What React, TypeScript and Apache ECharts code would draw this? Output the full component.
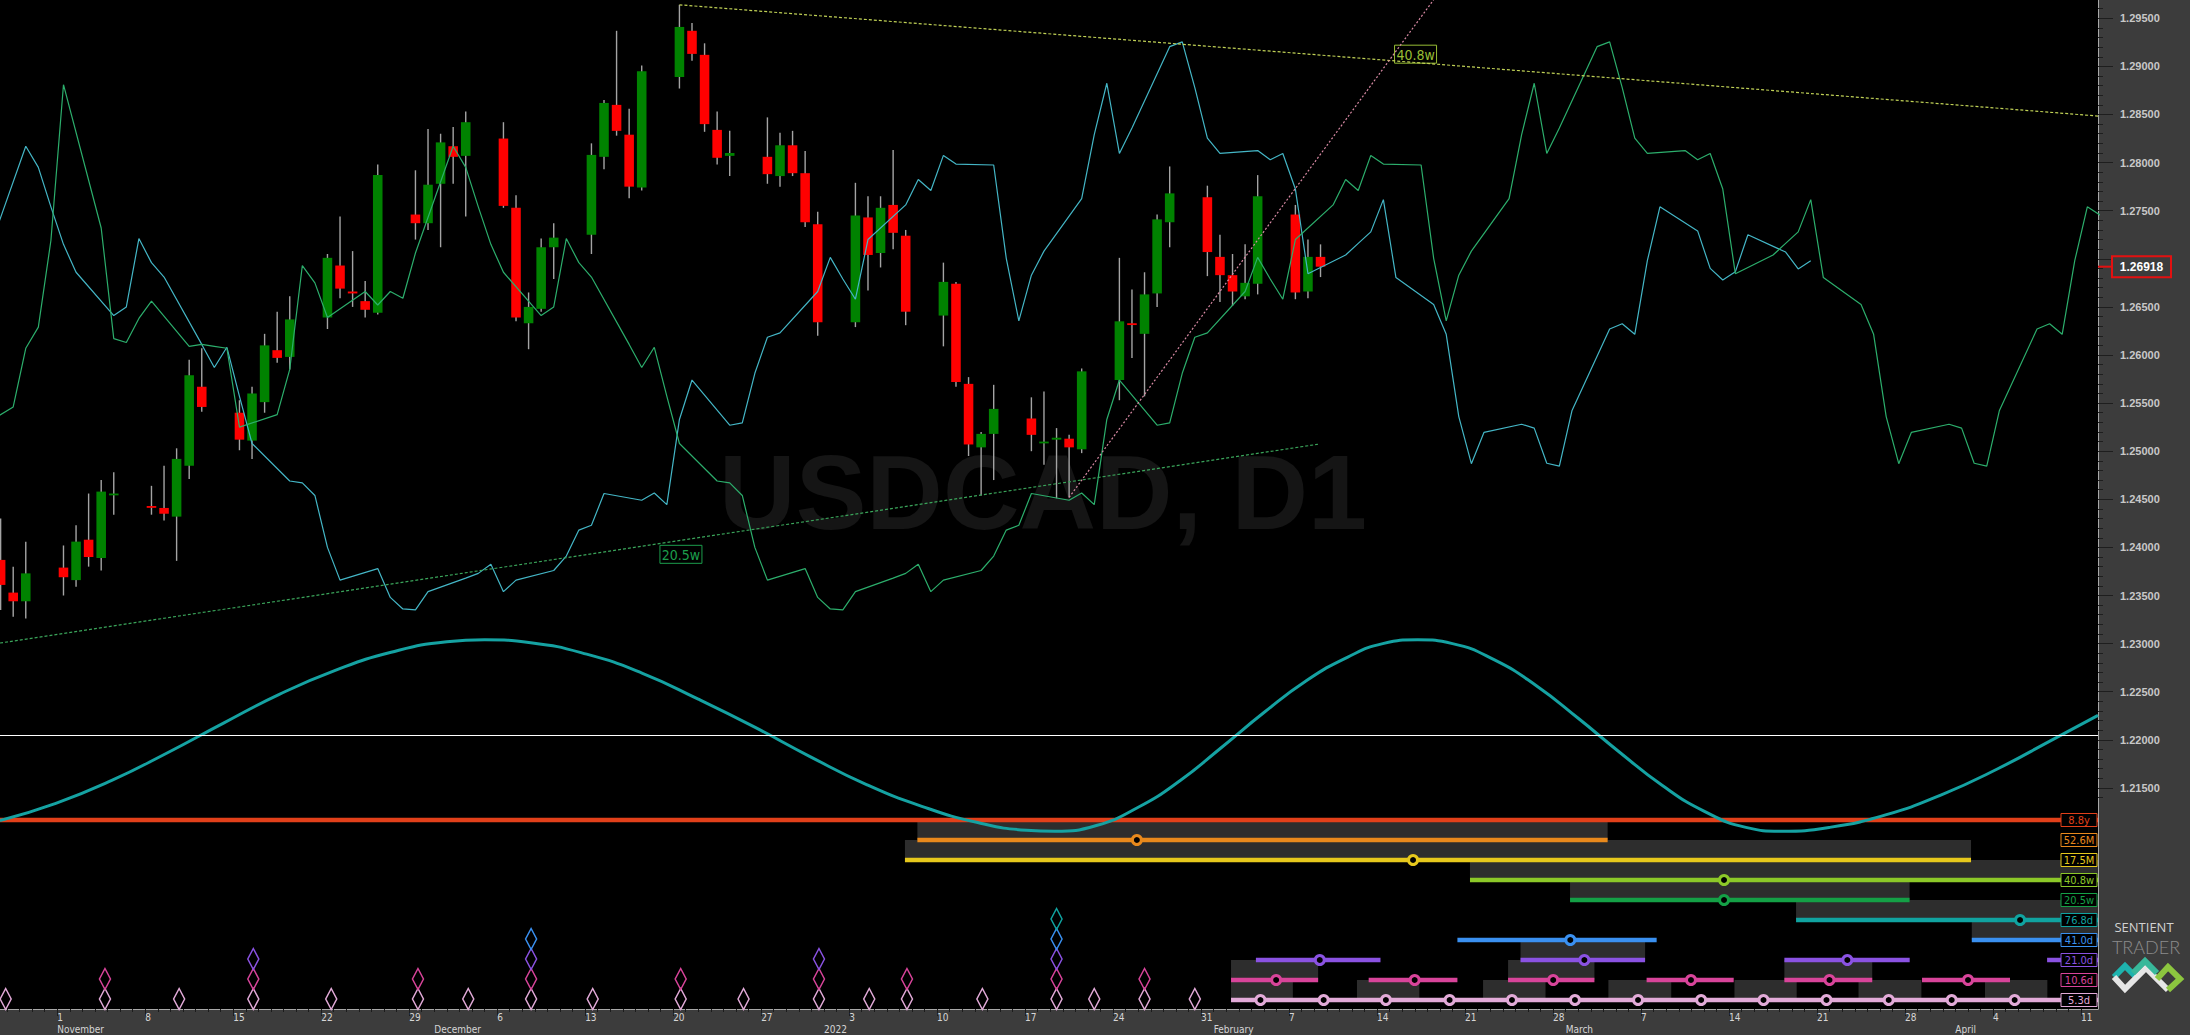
import React, { useEffect, useRef } from 'react';
import * as echarts from 'echarts';

// ---- Daily USDCAD candles (day 0 = Monday 1 Nov 2021, calendar days) ----
const candleDays = [-5, -4, -3, 0, 1, 2, 3, 4, 7, 8, 9, 10, 11, 14, 15, 16, 17, 18, 21, 22, 23, 24, 25, 28, 29, 30, 31, 32, 35, 36, 37, 38, 39, 42, 43, 44, 45, 46, 49, 50, 51, 52, 53, 56, 57, 58, 59, 60, 63, 64, 65, 66, 67, 70, 71, 72, 73, 74, 77, 78, 79, 80, 81, 84, 85, 86, 87, 88, 91, 92, 93, 94, 95, 98, 99, 100];
const opens = [1.2387, 1.2353, 1.2344, 1.2379, 1.2366, 1.2408, 1.2389, 1.2455, 1.2443, 1.2441, 1.2432, 1.2485, 1.2567, 1.2540, 1.2511, 1.2551, 1.2605, 1.2598, 1.2639, 1.2693, 1.2666, 1.2656, 1.2644, 1.2746, 1.2737, 1.2778, 1.2817, 1.2807, 1.2825, 1.2753, 1.2633, 1.2648, 1.2712, 1.2725, 1.2806, 1.2860, 1.2829, 1.2774, 1.2889, 1.2937, 1.2912, 1.2834, 1.2807, 1.2806, 1.2786, 1.2818, 1.2789, 1.2736, 1.2634, 1.2743, 1.2706, 1.2756, 1.2724, 1.2641, 1.2674, 1.2570, 1.2504, 1.2518, 1.2534, 1.2509, 1.2512, 1.2513, 1.2502, 1.2574, 1.2633, 1.2622, 1.2664, 1.2738, 1.2764, 1.2702, 1.2683, 1.2661, 1.2674, 1.2746, 1.2666, 1.2702];
const highs = [1.2430, 1.2380, 1.2406, 1.2402, 1.2423, 1.2456, 1.2470, 1.2478, 1.2464, 1.2485, 1.2503, 1.2595, 1.2607, 1.2553, 1.2567, 1.2622, 1.2645, 1.2661, 1.2705, 1.2744, 1.2708, 1.2677, 1.2798, 1.2792, 1.2835, 1.2830, 1.2837, 1.2853, 1.2842, 1.2766, 1.2665, 1.2721, 1.2737, 1.2820, 1.2865, 1.2937, 1.2856, 1.2901, 1.2964, 1.2945, 1.2924, 1.2853, 1.2833, 1.2847, 1.2831, 1.2833, 1.2812, 1.2749, 1.2779, 1.2765, 1.2765, 1.2813, 1.2730, 1.2696, 1.2676, 1.2577, 1.2520, 1.2569, 1.2556, 1.2562, 1.2524, 1.2517, 1.2586, 1.2701, 1.2668, 1.2686, 1.2746, 1.2796, 1.2776, 1.2725, 1.2705, 1.2715, 1.2787, 1.2756, 1.2720, 1.2715];
const lows = [1.2335, 1.2328, 1.2326, 1.2350, 1.2359, 1.2380, 1.2376, 1.2434, 1.2434, 1.2428, 1.2386, 1.2471, 1.2541, 1.2501, 1.2492, 1.2540, 1.2592, 1.2585, 1.2627, 1.2659, 1.2650, 1.2639, 1.2642, 1.2720, 1.2730, 1.2712, 1.2778, 1.2744, 1.2753, 1.2635, 1.2606, 1.2645, 1.2679, 1.2705, 1.2793, 1.2828, 1.2763, 1.2771, 1.2877, 1.2906, 1.2832, 1.2798, 1.2786, 1.2778, 1.2775, 1.2786, 1.2733, 1.2620, 1.2629, 1.2667, 1.2691, 1.2710, 1.2631, 1.2609, 1.2567, 1.2495, 1.2454, 1.2470, 1.2500, 1.2486, 1.2451, 1.2452, 1.2498, 1.2553, 1.2597, 1.2557, 1.2650, 1.2712, 1.2682, 1.2655, 1.2651, 1.2658, 1.2663, 1.2658, 1.2659, 1.2681];
const closes = [1.2361, 1.2344, 1.2373, 1.2369, 1.2406, 1.2390, 1.2458, 1.2456, 1.2442, 1.2435, 1.2492, 1.2579, 1.2546, 1.2512, 1.2560, 1.2610, 1.2597, 1.2637, 1.2701, 1.2669, 1.2664, 1.2647, 1.2787, 1.2737, 1.2777, 1.2821, 1.2806, 1.2842, 1.2755, 1.2639, 1.2650, 1.2712, 1.2722, 1.2808, 1.2862, 1.2833, 1.2775, 1.2895, 1.2941, 1.2913, 1.2840, 1.2805, 1.2810, 1.2788, 1.2818, 1.2789, 1.2738, 1.2634, 1.2745, 1.2704, 1.2753, 1.2727, 1.2645, 1.2676, 1.2572, 1.2507, 1.2518, 1.2544, 1.2517, 1.2510, 1.2514, 1.2504, 1.2583, 1.2635, 1.2632, 1.2663, 1.2741, 1.2768, 1.2707, 1.2683, 1.2666, 1.2675, 1.2765, 1.2665, 1.2702, 1.26918];

// ---- FLD lines (median price displaced forward), [day, price] ----
const fld76 = [[-6, 1.2706], [-3, 1.2817], [-2, 1.2795], [-1, 1.2754], [0, 1.2715], [1, 1.2686], [4, 1.2641], [5, 1.2650], [6, 1.2721], [7, 1.2696], [8, 1.2681], [11, 1.2611], [12, 1.2587], [13, 1.2608], [14, 1.2557], [15, 1.2508], [18, 1.2469], [19, 1.2467], [20, 1.2454], [21, 1.2400], [22, 1.2366], [25, 1.2378], [26, 1.2348], [27, 1.2336], [28, 1.2335], [29, 1.2354], [32, 1.2368], [33, 1.2373], [34, 1.23825], [35, 1.2354], [36, 1.2366], [39, 1.2376], [40, 1.2391], [41, 1.2418], [42, 1.2423], [43, 1.2456], [46, 1.2449], [47, 1.24565], [48, 1.24445], [49, 1.2533], [50, 1.2574], [53, 1.2527], [54, 1.25295], [55, 1.2581], [56, 1.26185], [57, 1.2623], [60, 1.2666], [61, 1.27015], [62, 1.2679], [63, 1.2658], [64, 1.272], [67, 1.2756], [68, 1.27825], [69, 1.2771], [70, 1.28075], [71, 1.27985], [74, 1.27975], [75, 1.27005], [76, 1.26355], [77, 1.2683], [78, 1.2708], [81, 1.27625], [82, 1.2829], [83, 1.28825], [84, 1.28095], [85, 1.2836], [88, 1.29205], [89, 1.29255], [90, 1.2878], [91, 1.28255], [92, 1.28095], [95, 1.28125], [96, 1.2803], [97, 1.28095], [98, 1.27725], [99, 1.26845], [102, 1.2704], [103, 1.2716], [104, 1.2728], [105, 1.27615], [106, 1.26805], [109, 1.26525], [110, 1.26215], [111, 1.2536], [112, 1.2487], [113, 1.25195], [116, 1.2528], [117, 1.2524], [118, 1.24875], [119, 1.24845], [120, 1.2542], [123, 1.2627], [124, 1.26325], [125, 1.26215], [126, 1.2698], [127, 1.2754], [130, 1.2729], [131, 1.269], [132, 1.2678], [133, 1.26865], [134, 1.2725], [137, 1.2707], [138, 1.26895], [139, 1.2698]];
const fld205 = [[-7, 1.2522], [-4, 1.2546], [-3, 1.2607], [-2, 1.2629], [-1, 1.2719], [0, 1.2881], [3, 1.2732], [4, 1.2617], [5, 1.2613], [6, 1.2638], [7, 1.2656], [10, 1.2609], [11, 1.2611], [12, 1.2609], [13, 1.2607], [14, 1.2525], [17, 1.2538], [18, 1.2585], [19, 1.2693], [20, 1.2675], [21, 1.2639], [24, 1.2666], [25, 1.2652], [26, 1.2666], [27, 1.2659], [28, 1.2706], [31, 1.2817], [32, 1.2795], [33, 1.2754], [34, 1.2715], [35, 1.2686], [38, 1.2641], [39, 1.2650], [40, 1.2721], [41, 1.2696], [42, 1.2681], [45, 1.2611], [46, 1.2587], [47, 1.2608], [48, 1.2557], [49, 1.2508], [52, 1.2469], [53, 1.2467], [54, 1.2454], [55, 1.2400], [56, 1.2366], [59, 1.2378], [60, 1.2348], [61, 1.2336], [62, 1.2335], [63, 1.2354], [66, 1.2368], [67, 1.2373], [68, 1.23825], [69, 1.2354], [70, 1.2366], [73, 1.2376], [74, 1.2391], [75, 1.2418], [76, 1.2423], [77, 1.2456], [80, 1.2449], [81, 1.24565], [82, 1.24445], [83, 1.2533], [84, 1.2574], [87, 1.2527], [88, 1.25295], [89, 1.2581], [90, 1.26185], [91, 1.2623], [94, 1.2666], [95, 1.27015], [96, 1.2679], [97, 1.2658], [98, 1.272], [101, 1.2756], [102, 1.27825], [103, 1.2771], [104, 1.28075], [105, 1.27985], [108, 1.27975], [109, 1.27005], [110, 1.26355], [111, 1.2683], [112, 1.2708], [115, 1.27625], [116, 1.2829], [117, 1.28825], [118, 1.28095], [119, 1.2836], [122, 1.29205], [123, 1.29255], [124, 1.2878], [125, 1.28255], [126, 1.28095], [129, 1.28125], [130, 1.2803], [131, 1.28095], [132, 1.27725], [133, 1.26845], [136, 1.2704], [137, 1.2716], [138, 1.2728], [139, 1.27615], [140, 1.26805], [143, 1.26525], [144, 1.26215], [145, 1.2536], [146, 1.2487], [147, 1.25195], [150, 1.2528], [151, 1.2524], [152, 1.24875], [153, 1.24845], [154, 1.2542], [157, 1.2627], [158, 1.26325], [159, 1.26215], [160, 1.2698], [161, 1.2754], [164, 1.2729]];

// ---- Trend lines [day, price] ----
const upperTrend = [[49, 1.2964], [161.85, 1.28484]];
const lowerTrend = [[-5.05, 1.23006], [99.8, 1.25072]];
const risingTrend = [[80, 1.2452], [109.6, 1.298]];
const trendTags = ['40.8w', '20.5w'];
const trendTagPoints = [[107.56, 1.29127], [49.12, 1.23928]];

// ---- Composite cycle wave (unit amplitude), [day, value] ----
const waveTrace = [[-5.05, -0.89], [-0.61, -0.71], [3.84, -0.47], [8.28, -0.18], [12.73, 0.13], [17.17, 0.43], [21.62, 0.68], [26.06, 0.87], [30.5, 0.98], [33.5, 1.0], [37.17, 0.97], [41.62, 0.85], [46.06, 0.65], [50.5, 0.38], [54.95, 0.09], [59.39, -0.22], [63.84, -0.51], [68.28, -0.74], [72.73, -0.91], [76.61, -0.99], [78.84, -1.0], [82.17, -0.94], [85.5, -0.75], [88.84, -0.47], [92.17, -0.12], [95.5, 0.24], [98.84, 0.57], [102.17, 0.82], [104.95, 0.96], [107.73, 1.0], [110.5, 0.96], [113.84, 0.79], [117.17, 0.52], [120.5, 0.18], [123.84, -0.18], [127.17, -0.52], [130.5, -0.79], [133.84, -0.96], [136.61, -1.0], [140.5, -0.96], [144.95, -0.83], [149.39, -0.62], [153.84, -0.35], [158.28, -0.04], [161.85, 0.21]];

// ---- Cycle panel: rows, spans [start, end, row], trough markers, windows ----
const cycleLabels = ['8.8y', '52.6M', '17.5M', '40.8w', '20.5w', '76.8d', '41.0d', '21.0d', '10.6d', '5.3d'];
const cycleSpans = [[-5.05, 161.85, 0], [67.93, 122.84, 1], [66.94, 151.75, 2], [111.89, 161.85, 3], [119.85, 146.86, 4], [137.83, 161.85, 5], [110.89, 126.74, 6], [151.81, 161.85, 6], [94.86, 104.77, 7], [115.91, 125.82, 7], [136.9, 146.87, 7], [157.8, 161.85, 7], [92.88, 99.81, 8], [103.83, 110.89, 8], [114.92, 121.79, 8], [125.94, 132.87, 8], [136.9, 143.89, 8], [147.85, 154.85, 8], [92.88, 161.85, 9]];
const cycleTroughs = [[85.39, 1], [107.36, 2], [132.1, 3], [132.1, 4], [155.65, 5], [119.87, 6], [99.94, 7], [120.99, 7], [141.91, 7], [96.47, 8], [107.49, 8], [118.51, 8], [129.47, 8], [140.49, 8], [151.51, 8], [95.22, 9], [100.25, 9], [105.2, 9], [110.27, 9], [115.23, 9], [120.24, 9], [125.26, 9], [130.28, 9], [135.24, 9], [140.25, 9], [145.2, 9], [150.21, 9], [155.22, 9]];
const cycleWindows = [[67.93, 122.84, 1], [66.94, 151.75, 2], [111.89, 161.85, 3], [119.85, 146.86, 4], [137.83, 161.85, 5], [151.81, 161.85, 6], [115.91, 125.82, 7], [92.88, 99.81, 8], [114.92, 121.79, 8], [136.9, 143.89, 8], [92.88, 97.8, 9], [102.9, 107.86, 9], [112.93, 117.9, 9], [122.9, 127.9, 9], [132.93, 137.88, 9], [142.8, 147.8, 9], [152.86, 157.82, 9]];
// past troughs: [day, number of cycles bottoming together]
const pastTroughs = [[-4.6, 1], [3.3, 2], [9.2, 1], [15.1, 3], [21.3, 1], [28.2, 2], [32.2, 1], [37.2, 4], [42.1, 1], [49.1, 2], [54.1, 1], [60.1, 3], [64.1, 1], [67.1, 2], [73.1, 1], [79, 5], [82, 1], [86, 2], [90, 1]];

// ---- Axis ticks and labels ----
const priceTicks = [1.215, 1.22, 1.225, 1.23, 1.235, 1.24, 1.245, 1.25, 1.255, 1.26, 1.265, 1.27, 1.275, 1.28, 1.285, 1.29, 1.295];
const priceLabels = [1.215, 1.22, 1.225, 1.23, 1.235, 1.24, 1.245, 1.25, 1.255, 1.26, 1.265, 1.275, 1.28, 1.285, 1.29, 1.295];
const mondays = [0, 7, 14, 21, 28, 35, 42, 49, 56, 63, 70, 77, 84, 91, 98, 105, 112, 119, 126, 133, 140, 147, 154, 161];
const monthStarts = [0, 30, 61, 92, 120, 151];
const monthNames = ['November', 'December', '2022', 'February', 'March', 'April'];

// ---- styling ----
const CYCLE_COLORS = ['#e2401a', '#e8891c', '#e6c81c', '#8cc828', '#14a046', '#10a3a0', '#3a90f0', '#8a52e2', '#d8449a', '#e2aad8'];
const X_MIN = -5.05, X_MAX = 161.85;
const P_MIN = 1.192017, P_MAX = 1.296902;
const W_MIN = -2.8579, W_MAX = 7.6855;
const R_MIN = -41, R_MAX = 9.45;
const NARROW = '"Liberation Sans Narrow", "Arial Narrow", "DejaVu Sans Condensed", sans-serif';
const SANS = '"Liberation Sans", Arial, sans-serif';
const DAY0 = Date.UTC(2021, 10, 1);

function dayOfMonth(v: number) {
  const d = new Date(DAY0 + Math.round(v + 0.5) * 86400000);
  return String(d.getUTCDate());
}

function centered(text: string, x: number, y: number, fill: string, font: string) {
  return { type: 'text', x, y, style: { text, fill, font, align: 'center', verticalAlign: 'middle', textAlign: 'center', textVerticalAlign: 'middle' } };
}

function buildOption() {
  const lastClose = closes[closes.length - 1];
  const minorPrice: number[] = [];
  for (let k = 1214; k <= 1296; k++) if (k % 5 !== 0) minorPrice.push(k / 1000);
  const dayTicks: number[] = [];
  for (let d = -4; d <= 161; d++) dayTicks.push(d - 0.5);
  const mondayTicks = mondays.map((d) => d - 0.5);
  const monthTicks = monthStarts.map((d) => d - 0.5);

  const candleData = candleDays.map((d, i) => [d, opens[i], closes[i], lows[i], highs[i]]);
  const hiddenY = { show: false, axisLine: { onZero: false } };

  return {
    animation: false,
    backgroundColor: '#3c3c3c',
    grid: { left: 0, right: 92, top: 0, bottom: 26, show: true, backgroundColor: '#000000', borderWidth: 0 },
    xAxis: [
      {
        type: 'value', min: X_MIN, max: X_MAX, position: 'bottom',
        axisLine: { show: true, onZero: false, lineStyle: { color: '#a8a8a8', width: 1 } },
        axisTick: { show: true, customValues: mondayTicks, length: 7, lineStyle: { color: '#1c1c1c', width: 1 } },
        axisLabel: { show: true, customValues: mondayTicks, formatter: dayOfMonth, align: 'left', margin: 3, color: '#d6d6d6', fontSize: 10, fontFamily: NARROW },
        splitLine: { show: false },
      },
      {
        type: 'value', min: X_MIN, max: X_MAX, position: 'bottom',
        axisLine: { show: false, onZero: false },
        axisTick: { show: true, customValues: dayTicks, length: 3, lineStyle: { color: '#1c1c1c', width: 1 } },
        axisLabel: { show: false },
        splitLine: { show: false },
      },
      {
        type: 'value', min: X_MIN, max: X_MAX, position: 'bottom',
        axisLine: { show: false, onZero: false },
        axisTick: { show: false },
        axisLabel: {
          show: true, customValues: monthTicks, align: 'left', margin: 15, color: '#d6d6d6', fontSize: 10, fontFamily: NARROW,
          formatter: (v: number) => monthNames[monthTicks.indexOf(v)] ?? '',
        },
        splitLine: { show: false },
      },
    ],
    yAxis: [
      {
        type: 'value', min: P_MIN, max: P_MAX, position: 'right',
        axisLine: { show: true, onZero: false, lineStyle: { color: '#a8a8a8', width: 1 } },
        axisTick: { show: true, customValues: priceTicks, length: 15, lineStyle: { color: '#1e1e1e', width: 1 } },
        axisLabel: { show: true, customValues: priceLabels, formatter: (v: number) => v.toFixed(5), margin: 22, color: '#c8c8c8', fontSize: 11, fontWeight: 'bold', fontFamily: SANS },
        splitLine: { show: false },
      },
      { type: 'value', min: W_MIN, max: W_MAX, ...hiddenY },
      { type: 'value', min: R_MIN, max: R_MAX, inverse: true, ...hiddenY },
      {
        type: 'value', min: P_MIN, max: P_MAX, position: 'right',
        axisLine: { show: false, onZero: false },
        axisTick: { show: true, customValues: minorPrice, length: 5, lineStyle: { color: '#1e1e1e', width: 1 } },
        axisLabel: { show: false },
        splitLine: { show: false },
      },
    ],
    graphic: [
      { ...centered('USDCAD, D1', 1043, 492, '#151515', 'bold 106px "Liberation Sans", Arial, sans-serif'), z: 1, silent: true },
      { ...centered('SENTIENT', 2144, 927, '#d2d2d2', '500 13px "Open Sans", "Liberation Sans", sans-serif'), z: 10 },
      { ...centered('TRADER', 2146, 947, '#8c8c8c', '300 18px Lato, "Open Sans", sans-serif'), z: 10 },
      { type: 'polyline', z: 10, shape: { points: [[2114, 977], [2125, 966], [2137, 978]] }, style: { stroke: '#1eb3ae', lineWidth: 6, fill: 'none' } },
      { type: 'polyline', z: 10, shape: { points: [[2114, 977], [2125, 989], [2146, 968], [2157, 979], [2168, 990]] }, style: { stroke: '#e6e6e6', lineWidth: 6, fill: 'none' } },
      { type: 'polyline', z: 10, shape: { points: [[2133, 973], [2145, 961], [2157, 973]] }, style: { stroke: '#38b89a', lineWidth: 6, fill: 'none' } },
      { type: 'polyline', z: 10, shape: { points: [[2157, 979], [2168, 967], [2180, 979], [2168, 990]] }, style: { stroke: '#8cc63f', lineWidth: 6, fill: 'none' } },
    ],
    series: [
      // grey projection windows in the cycle panel
      {
        type: 'custom', xAxisIndex: 0, yAxisIndex: 2, data: cycleWindows, encode: { x: [0, 1], y: 2 },
        renderItem: (_p: any, api: any) => {
          const a = api.coord([api.value(0), api.value(2) - 1]);
          const b = api.coord([api.value(1), api.value(2)]);
          return { type: 'rect', shape: { x: a[0], y: a[1], width: b[0] - a[0], height: b[1] - a[1] }, style: { fill: '#2d2d2d' } };
        },
      },
      // composite wave with its zero line
      {
        type: 'line', xAxisIndex: 0, yAxisIndex: 1, data: waveTrace, smooth: true, showSymbol: false, silent: true,
        lineStyle: { color: '#15a2a2', width: 3 },
        markLine: { silent: true, symbol: 'none', label: { show: false }, lineStyle: { color: '#ffffff', width: 1, type: 'solid' }, data: [{ yAxis: 0 }] },
      },
      // cycle phase spans
      {
        type: 'custom', xAxisIndex: 0, yAxisIndex: 2, data: cycleSpans, encode: { x: [0, 1], y: 2 },
        renderItem: (_p: any, api: any) => {
          const r = api.value(2);
          const a = api.coord([api.value(0), r]);
          const b = api.coord([api.value(1), r]);
          return { type: 'line', shape: { x1: a[0], y1: a[1], x2: b[0], y2: b[1] }, style: { stroke: CYCLE_COLORS[r], lineWidth: 4.5 } };
        },
      },
      // projected troughs
      {
        type: 'custom', xAxisIndex: 0, yAxisIndex: 2, data: cycleTroughs, encode: { x: 0, y: 1 },
        renderItem: (_p: any, api: any) => {
          const r = api.value(1);
          const c = api.coord([api.value(0), r]);
          return { type: 'circle', shape: { cx: c[0], cy: c[1], r: 4.5 }, style: { fill: '#000000', stroke: CYCLE_COLORS[r], lineWidth: 3 } };
        },
      },
      // past trough diamonds, stacked by cycle
      {
        type: 'custom', xAxisIndex: 0, yAxisIndex: 2, data: pastTroughs, encode: { x: 0, y: 1 },
        renderItem: (_p: any, api: any) => {
          const n = api.value(1);
          const children: any[] = [];
          for (let k = 0; k < n; k++) {
            const row = 9 - k;
            const c = api.coord([api.value(0), row]);
            const cy = c[1] - 1;
            children.push({
              type: 'polygon',
              shape: { points: [[c[0], cy - 10.5], [c[0] + 5.5, cy], [c[0], cy + 10.5], [c[0] - 5.5, cy]] },
              style: { fill: 'none', stroke: CYCLE_COLORS[row], lineWidth: 1.5 },
            });
          }
          return { type: 'group', children };
        },
      },
      // candles
      {
        type: 'custom', xAxisIndex: 0, yAxisIndex: 0, data: candleData, encode: { x: 0, y: [1, 2, 3, 4] },
        renderItem: (_p: any, api: any) => {
          const d = api.value(0), o = api.value(1), c = api.value(2), l = api.value(3), h = api.value(4);
          const hi = api.coord([d, h]);
          const lo = api.coord([d, l]);
          const po = api.coord([d, o]);
          const pc = api.coord([d, c]);
          const w = api.size([1, 0])[0] * 0.76;
          const top = Math.min(po[1], pc[1]);
          const ht = Math.max(Math.abs(po[1] - pc[1]), 1.8);
          return {
            type: 'group',
            children: [
              { type: 'line', shape: { x1: hi[0], y1: hi[1], x2: lo[0], y2: lo[1] }, style: { stroke: '#a4a4a4', lineWidth: 1.4 } },
              { type: 'rect', shape: { x: po[0] - w / 2, y: top, width: w, height: ht }, style: { fill: c >= o ? '#008200' : '#ff0000' } },
            ],
          };
        },
      },
      // FLD lines
      { type: 'line', xAxisIndex: 0, yAxisIndex: 0, data: fld76, showSymbol: false, silent: true, lineStyle: { color: '#44b6c6', width: 1.2 } },
      { type: 'line', xAxisIndex: 0, yAxisIndex: 0, data: fld205, showSymbol: false, silent: true, lineStyle: { color: '#2cae6c', width: 1.2 } },
      // trend lines
      { type: 'line', xAxisIndex: 0, yAxisIndex: 0, data: upperTrend, showSymbol: false, silent: true, lineStyle: { color: '#bfd055', width: 1.2, type: [3, 2] } },
      { type: 'line', xAxisIndex: 0, yAxisIndex: 0, data: lowerTrend, showSymbol: false, silent: true, lineStyle: { color: '#3aa45a', width: 1.2, type: [3, 2] } },
      { type: 'line', xAxisIndex: 0, yAxisIndex: 0, data: risingTrend, showSymbol: false, silent: true, lineStyle: { color: '#d88aa4', width: 1.2, type: [2, 2] } },
      // trend line tags
      {
        type: 'custom', xAxisIndex: 0, yAxisIndex: 0, data: trendTagPoints.map((p, i) => [p[0], p[1], i]), encode: { x: 0, y: 1 },
        renderItem: (_p: any, api: any) => {
          const i = api.value(2);
          const c = api.coord([api.value(0), api.value(1)]);
          const col = i === 0 ? '#98bd34' : '#1c9e4c';
          return {
            type: 'group',
            children: [
              { type: 'rect', shape: { x: c[0] - 21, y: c[1] - 9, width: 42, height: 18 }, style: { fill: '#000000', stroke: col, lineWidth: 1 } },
              centered(trendTags[i], c[0], c[1] + 0.5, col, `14px ${NARROW}`),
            ],
          };
        },
      },
      // cycle row tags at the right edge
      {
        type: 'custom', xAxisIndex: 0, yAxisIndex: 2, data: cycleLabels.map((_, r) => [X_MAX, r]), encode: { x: 0, y: 1 },
        renderItem: (_p: any, api: any) => {
          const r = api.value(1);
          const c = api.coord([api.value(0), r]);
          return {
            type: 'group',
            children: [
              { type: 'rect', shape: { x: c[0] - 37, y: c[1] - 6.5, width: 36, height: 13 }, style: { fill: '#000000', stroke: CYCLE_COLORS[r], lineWidth: 1 } },
              centered(cycleLabels[r], c[0] - 19, c[1] + 0.5, CYCLE_COLORS[r], `11px ${NARROW}`),
            ],
          };
        },
      },
      // last price marker on the price scale
      {
        type: 'custom', xAxisIndex: 0, yAxisIndex: 0, data: [[X_MAX, lastClose]], encode: { x: 0, y: 1 }, clip: false, z: 10,
        renderItem: (_p: any, api: any) => {
          const c = api.coord([api.value(0), api.value(1)]);
          return {
            type: 'group',
            children: [
              { type: 'line', shape: { x1: c[0], y1: c[1], x2: c[0] + 14, y2: c[1] }, style: { stroke: '#e41010', lineWidth: 2 } },
              { type: 'rect', shape: { x: c[0] + 14, y: c[1] - 10.5, width: 59, height: 21 }, style: { fill: '#3c3c3c', stroke: '#e41010', lineWidth: 2 } },
              centered(api.value(1).toFixed(5), c[0] + 43.5, c[1] + 0.5, '#ffffff', `bold 12px ${SANS}`),
            ],
          };
        },
      },
    ],
  };
}

export default function App() {
  const ref = useRef<HTMLDivElement>(null);
  useEffect(() => {
    document.body.style.margin = '0';
    const el = ref.current;
    if (!el) return;
    const chart = echarts.init(el, null, { renderer: 'svg' });
    chart.setOption(buildOption() as any);
    return () => chart.dispose();
  }, []);
  return <div ref={ref} style={{ position: 'fixed', left: 0, top: 0, width: 2190, height: 1035 }} />;
}
